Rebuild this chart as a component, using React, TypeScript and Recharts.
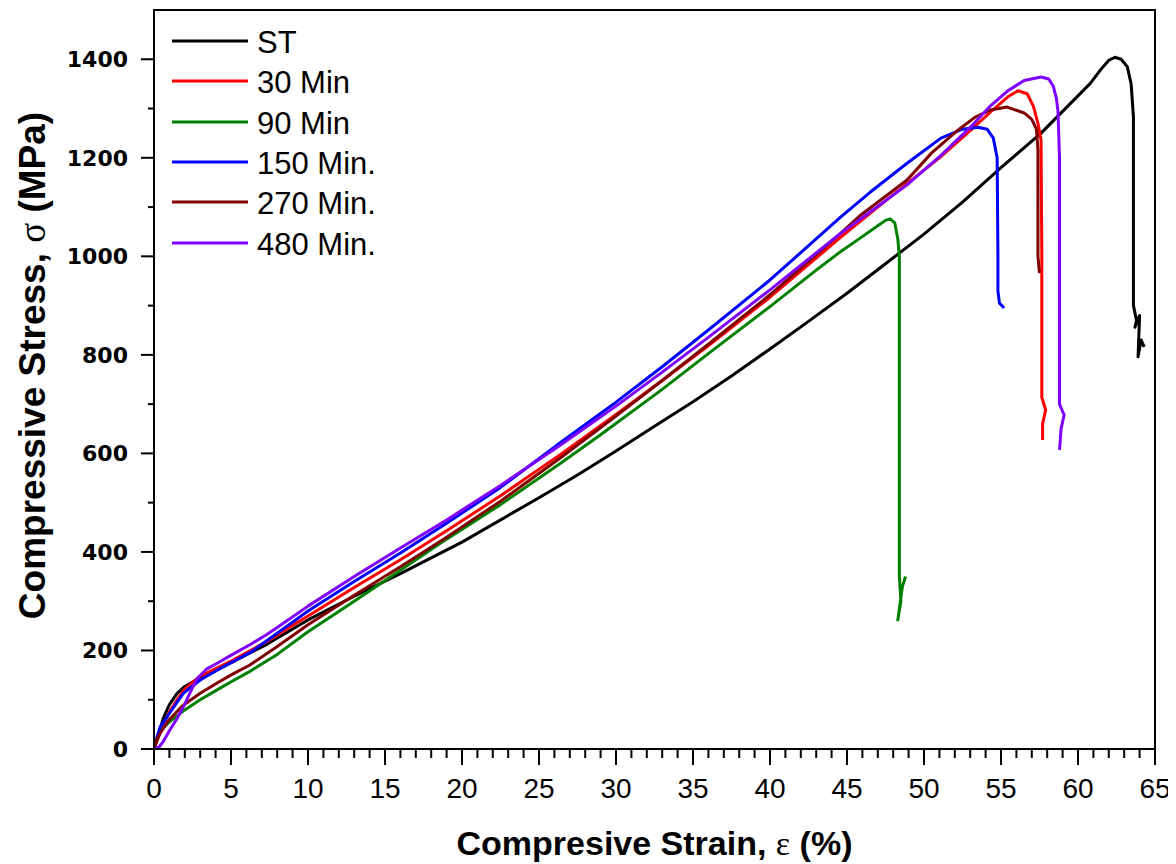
import React from 'react';
import { LineChart, Line, XAxis, YAxis, ReferenceArea, Label } from 'recharts';

type P = [number, number];

// Strain (%) , Stress (MPa)
const stData: P[] = [
  [0, 0], [0.3, 30], [0.6, 62], [1.0, 90], [1.5, 113], [2.0, 127], [3.0, 145], [4.0, 160], [5.1, 177],
  [7.3, 212], [10, 262], [13, 310], [16, 356], [20, 420], [25, 510], [27.5, 556], [30, 605], [32.5, 655],
  [35, 705], [37.5, 757], [40, 812], [42.5, 868], [45, 925], [47.5, 985], [50, 1045], [52.5, 1110],
  [55, 1180], [57.6, 1250], [59.5, 1310], [60.8, 1351], [61.5, 1380], [62.0, 1398], [62.4, 1404],
  [62.8, 1400], [63.2, 1385], [63.45, 1350], [63.6, 1283], [63.6, 1100], [63.6, 900], [63.8, 870],
  [63.7, 856], [64.0, 880], [63.9, 796], [64.1, 830], [64.3, 816],
];
const min30Data: P[] = [
  [0, 0], [0.3, 25], [0.6, 50], [1.0, 75], [1.5, 100], [2.0, 122], [3.0, 148], [4.0, 163], [5.1, 180],
  [7.3, 218], [10, 270], [13, 328], [16, 384], [19, 443], [22.5, 514], [26.4, 598], [30, 679], [33, 748],
  [36.1, 821], [40, 917], [44.6, 1039], [47, 1100], [49, 1150], [51, 1200], [53, 1255], [54.5, 1298],
  [55.5, 1325], [56.1, 1336], [56.7, 1330], [57.1, 1305], [57.4, 1270], [57.6, 1236], [57.65, 1000],
  [57.65, 714], [57.9, 688], [57.7, 660], [57.7, 627],
];
const min90Data: P[] = [
  [0, 0], [0.2, 20], [0.5, 40], [1.0, 55], [1.9, 77], [3.0, 100], [4.1, 120], [5.1, 138], [6.2, 157],
  [8, 192], [10, 238], [13, 300], [16, 363], [19, 426], [22.5, 496], [26.4, 580], [29, 638], [33, 730],
  [36.1, 805], [40, 898], [43, 972], [44.6, 1010], [45.9, 1038], [47.0, 1062], [47.5, 1073], [47.8, 1076],
  [48.1, 1068], [48.3, 1035], [48.4, 1000], [48.4, 800], [48.4, 350], [48.5, 300], [48.3, 262],
  [48.6, 330], [48.8, 350],
];
const min150Data: P[] = [
  [0, 0], [0.2, 25], [0.4, 45], [0.7, 58], [1.0, 72], [1.5, 95], [1.9, 113], [3.0, 140], [4.1, 160],
  [6.2, 195], [8, 235], [10, 280], [13, 340], [16, 398], [19, 458], [22.5, 531], [26.4, 622], [30, 704],
  [33, 776], [36.1, 853], [40, 952], [44.6, 1080], [46.5, 1130], [48.9, 1189], [51.1, 1240], [52.5, 1258],
  [53.5, 1262], [54.1, 1258], [54.5, 1240], [54.75, 1200], [54.8, 1000], [54.8, 930], [54.9, 905], [55.2, 895],
];
const min270Data: P[] = [
  [0, 0], [0.2, 20], [0.4, 32], [1.0, 60], [1.9, 89], [3.0, 113], [4.1, 134], [5.1, 152], [6.2, 170],
  [8, 208], [10, 252], [13, 312], [16, 370], [19, 430], [22.5, 503], [26.4, 591], [30, 676], [33, 748],
  [36.1, 824], [40, 922], [44.6, 1047], [45.9, 1084], [48.9, 1155], [50.5, 1210], [52.2, 1256],
  [53.3, 1282], [54.3, 1297], [55.4, 1303], [56.5, 1291], [57.0, 1278], [57.3, 1258], [57.4, 1216],
  [57.4, 1000], [57.5, 966],
];
const min480Data: P[] = [
  [0, 0], [0.3, 3], [0.6, 15], [1.0, 37], [1.5, 62], [1.9, 85], [2.4, 118], [2.8, 143], [3.4, 162],
  [4.1, 174], [5.1, 192], [6.2, 211], [7.3, 232], [8.4, 255], [10, 290], [13, 350], [16, 408], [19, 465],
  [22.5, 535], [26.4, 617], [30, 696], [33, 765], [36.1, 838], [40, 932], [44.6, 1047], [46.5, 1090],
  [48.9, 1145], [51.1, 1205], [53.2, 1268], [54.3, 1305], [55.4, 1335], [56.5, 1357], [57.6, 1364],
  [58.1, 1360], [58.4, 1345], [58.6, 1320], [58.7, 1295], [58.8, 1200], [58.8, 940], [58.8, 700],
  [59.1, 678], [58.9, 650], [58.8, 607],
];

const seriesNames = ['ST', '30 Min', '90 Min', '150 Min.', '270 Min.', '480 Min.'];
const seriesColors = ['#000000', '#ff0000', '#008000', '#0000ff', '#800000', '#8000ff'];
const seriesData = [stData, min30Data, min90Data, min150Data, min270Data, min480Data];

const xTicks = Array.from({ length: 66 }, (_, i) => i);
const yTicks = Array.from({ length: 15 }, (_, i) => i * 100);

const xTitle = 'Compresive Strain, ';
const yTitle = 'Compressive Stress, ';

const W = 1168;
const H = 856;
const MARGIN = { top: 2, right: 21, bottom: 0, left: 0 };
const YAXIS_W = 146;
const XAXIS_H = 115;

const XTick = (props: any) => {
  const { x, y, payload } = props;
  const v = payload.value as number;
  const major = v % 5 === 0;
  return (
    <g>
      <line x1={x} x2={x} y1={y} y2={y + (major ? 16 : 9)} stroke="#000" strokeWidth={2} />
      {major && (
        <text x={x} y={y + 49} textAnchor="middle" fontFamily="'Liberation Sans', Arial, sans-serif" fontSize={28} fill="#000">
          {v}
        </text>
      )}
    </g>
  );
};

const YTick = (props: any) => {
  const { x, y, payload } = props;
  const v = payload.value as number;
  const major = v % 200 === 0;
  return (
    <g>
      <line x1={x} x2={x - (major ? 13 : 6)} y1={y} y2={y} stroke="#000" strokeWidth={2} />
      {major && (
        <text x={x - 26} y={y + 8} textAnchor="end" fontFamily="'DejaVu Sans', sans-serif" fontWeight="bold" fontSize={22} fill="#000">
          {v}
        </text>
      )}
    </g>
  );
};

const XTitle = (props: any) => {
  const vb = props.viewBox || { x: YAXIS_W, y: H - XAXIS_H, width: W - YAXIS_W - MARGIN.right, height: XAXIS_H };
  const cx = vb.x + vb.width / 2;
  const by = vb.y + 106;
  return (
    <text x={cx} y={by} textAnchor="middle" fontFamily="'Liberation Sans', Arial, sans-serif" fontWeight="bold" fontSize={34} fill="#000">
      {xTitle}
      <tspan fontFamily="'Liberation Serif', serif" fontWeight="normal">ε</tspan>
      <tspan> (%)</tspan>
    </text>
  );
};

const YTitle = (props: any) => {
  const vb = props.viewBox || { x: 0, y: MARGIN.top, width: YAXIS_W, height: H - XAXIS_H - MARGIN.top };
  const bx = vb.x + 37;
  const cy = vb.y + vb.height / 2 - 14;
  return (
    <text x={bx} y={cy} transform={`rotate(-90, ${bx}, ${cy})`} textAnchor="middle" fontFamily="'Liberation Sans', Arial, sans-serif" fontWeight="bold" fontSize={37} fill="#000">
      {yTitle}
      <tspan fontFamily="'Liberation Serif', serif" fontWeight="normal">σ</tspan>
      <tspan> (MPa)</tspan>
    </text>
  );
};

const LEGEND_ROWS = [33, 73, 114, 154, 194, 235];

export default function App() {
  return (
    <div style={{ position: 'relative', width: W, height: H }}>
      <LineChart width={W} height={H} margin={MARGIN}>
        <XAxis
          type="number"
          dataKey="x"
          domain={[0, 65]}
          ticks={xTicks}
          interval={0}
          tick={<XTick />}
          tickLine={false}
          tickSize={0}
          tickMargin={0}
          height={XAXIS_H}
          axisLine={{ stroke: '#000', strokeWidth: 2 }}
          allowDataOverflow
        >
          <Label content={<XTitle />} />
        </XAxis>
        <YAxis
          type="number"
          dataKey="y"
          domain={[0, 1500]}
          ticks={yTicks}
          interval={0}
          tick={<YTick />}
          tickLine={false}
          tickSize={0}
          tickMargin={0}
          width={YAXIS_W}
          axisLine={{ stroke: '#000', strokeWidth: 2 }}
          allowDataOverflow
        >
          <Label content={<YTitle />} />
        </YAxis>
        <ReferenceArea x1={0} x2={65} y1={0} y2={1500} fill="none" stroke="#000" strokeWidth={2} ifOverflow="visible" />
        {seriesData.map((d, i) => (
          <Line
            key={seriesNames[i]}
            name={seriesNames[i]}
            data={d.map(([x, y]) => ({ x, y }))}
            dataKey="y"
            type="linear"
            stroke={seriesColors[i]}
            strokeWidth={3}
            strokeLinejoin="round"
            dot={false}
            activeDot={false}
            isAnimationActive={false}
          />
        ))}
      </LineChart>
      <svg width={400} height={260} style={{ position: 'absolute', left: 0, top: 0, pointerEvents: 'none' }}>
        {seriesNames.map((n, i) => (
          <g key={n}>
            <line x1={164} x2={240} y1={LEGEND_ROWS[i]} y2={LEGEND_ROWS[i]} stroke={seriesColors[i]} strokeWidth={3} />
            <text x={249} y={LEGEND_ROWS[i] + 12} fontFamily="'Liberation Sans', Arial, sans-serif" fontSize={31} fill="#000">
              {n}
            </text>
          </g>
        ))}
      </svg>
    </div>
  );
}
